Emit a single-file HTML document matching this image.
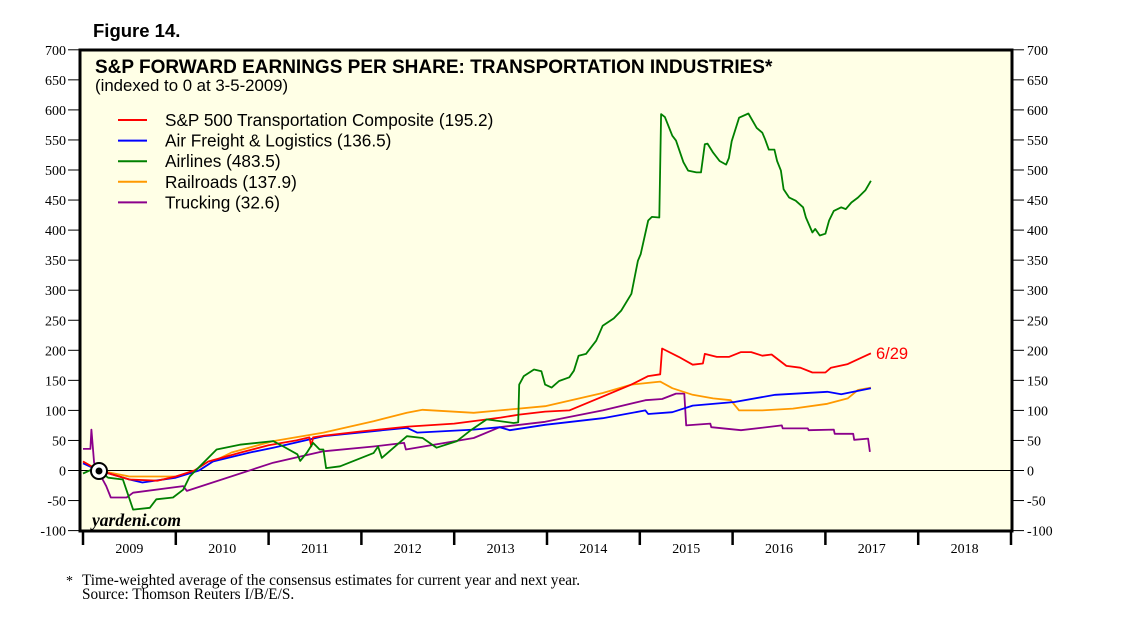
<!DOCTYPE html>
<html><head><meta charset="utf-8"><style>
body{margin:0;background:#fff;}
svg{display:block;}
.ax{font-family:"Liberation Serif",serif;font-size:14px;fill:#000;}
.sans{font-family:"Liberation Sans",sans-serif;}
</style></head><body>
<svg id="chart" width="1138" height="638" viewBox="0 0 1138 638">
<text x="93" y="37" class="sans" font-size="18.5" font-weight="bold">Figure 14.</text>
<rect x="80" y="50" width="932" height="481" fill="#ffffe6" stroke="#000" stroke-width="3"/>
<g id="yaxes"></g>
<g id="xaxis"></g>
<line x1="81" x2="1011" y1="470.5" y2="470.5" stroke="#000" stroke-width="1"/>
<text x="95" y="73" class="sans" font-size="19" font-weight="bold">S&amp;P FORWARD EARNINGS PER SHARE: TRANSPORTATION INDUSTRIES*</text>
<text x="95" y="91" class="sans" font-size="16.8">(indexed to 0 at 3-5-2009)</text>
<g id="legend"></g>
<g id="series"></g>
<text x="876" y="359" class="sans" font-size="16.5" fill="#ff0000">6/29</text>
<circle cx="99" cy="471" r="8" fill="#fff" stroke="#000" stroke-width="2"/>
<circle cx="99" cy="471" r="3.5" fill="#000"/>
<text x="92" y="526" font-family="Liberation Serif,serif" font-size="17.5" font-weight="bold" font-style="italic">yardeni.com</text>
<text x="66" y="585" class="ax" font-size="15">*</text>
<text x="82" y="585" class="ax" style="font-size:15.3px">Time-weighted average of the consensus estimates for current year and next year.</text>
<text x="82" y="599" class="ax" style="font-size:15.3px">Source: Thomson Reuters I/B/E/S.</text>
</svg>
<script>
const yTicks=[700,650,600,550,500,450,400,350,300,250,200,150,100,50,0,-50,-100];
const years=[2009,2010,2011,2012,2013,2014,2015,2016,2017,2018];
const seriesNames=["S&P 500 Transportation Composite (195.2)","Air Freight & Logistics (136.5)","Airlines (483.5)","Railroads (137.9)","Trucking (32.6)"];
const seriesColors=["#ff0000","#0000ff","#008000","#ff9900","#8b008b"];
const airlinesT=[2009.0,2009.1,2009.17,2009.27,2009.43,2009.54,2009.72,2009.79,2009.97,2010.08,2010.15,2010.33,2010.44,2010.69,2011.05,2011.16,2011.31,2011.34,2011.41,2011.48,2011.55,2011.59,2011.62,2011.77,2012.13,2012.18,2012.22,2012.49,2012.66,2012.81,2013.03,2013.17,2013.35,2013.64,2013.69,2013.70,2013.75,2013.86,2013.94,2013.98,2014.05,2014.13,2014.24,2014.29,2014.34,2014.42,2014.53,2014.60,2014.72,2014.80,2014.91,2014.98,2015.01,2015.09,2015.13,2015.21,2015.23,2015.27,2015.35,2015.39,2015.47,2015.52,2015.61,2015.66,2015.70,2015.73,2015.79,2015.86,2015.93,2015.96,2015.99,2016.07,2016.17,2016.26,2016.32,2016.35,2016.39,2016.45,2016.48,2016.52,2016.55,2016.61,2016.68,2016.76,2016.79,2016.86,2016.89,2016.94,2017.00,2017.04,2017.09,2017.17,2017.22,2017.28,2017.35,2017.43,2017.49];
const airlinesV=[-5,2,0,-12,-15,-65,-62,-48,-45,-32,-10,18,35,43,49,40,27,16,29,46,35,35,4,7,29,40,21,57,54,38,49,66,85,79,80,143,157,168,165,143,138,149,155,166,191,194,216,241,253,266,294,349,360,416,422,421,593,588,557,549,513,499,496,496,543,544,529,515,509,520,548,587,594,570,562,551,534,534,515,499,468,454,449,438,421,396,402,391,394,416,432,438,435,446,454,466,482];
const compT=[2009.0,2009.17,2009.5,2009.8,2010.0,2010.2,2010.35,2010.7,2011.0,2011.3,2011.44,2011.46,2011.48,2011.6,2012.0,2012.5,2013.0,2013.5,2013.70,2013.98,2014.24,2014.60,2014.91,2015.09,2015.22,2015.24,2015.42,2015.57,2015.68,2015.70,2015.83,2015.96,2016.09,2016.20,2016.32,2016.42,2016.58,2016.73,2016.86,2017.00,2017.06,2017.24,2017.35,2017.49];
const compV=[15,0,-15,-17,-10,0,15,30,42,50,55,40,55,58,65,73,78,88,93,98,100,123,143,157,160,203,189,176,178,194,189,189,197,197,191,193,174,171,163,163,171,177,185,195];
const airFrT=[2009.0,2009.17,2009.5,2009.64,2010.0,2010.25,2010.4,2010.8,2011.05,2011.59,2012.49,2012.6,2013.21,2013.49,2013.60,2013.98,2014.60,2015.06,2015.09,2015.35,2015.57,2016.02,2016.46,2017.02,2017.17,2017.49];
const airFrV=[12,0,-15,-20,-12,0,15,30,38,57,71,63,68,72,67,76,87,100,94,97,108,114,126,131,127,137];
const railT=[2009.0,2009.17,2009.5,2010.0,2010.25,2010.4,2010.6,2011.05,2011.59,2012.13,2012.49,2012.66,2013.21,2013.49,2013.98,2014.60,2014.91,2015.22,2015.35,2015.57,2015.79,2015.98,2016.07,2016.32,2016.65,2017.02,2017.24,2017.35,2017.49];
const railV=[15,0,-10,-10,0,15,30,49,63,82,96,101,96,100,107,129,143,148,137,126,120,117,100,100,103,111,120,134,138];
const truckT=[2009.0,2009.08,2009.09,2009.12,2009.16,2009.25,2009.3,2009.47,2009.54,2010.08,2010.12,2011.05,2011.59,2012.13,2012.46,2012.48,2013.21,2013.49,2013.98,2014.60,2015.06,2015.24,2015.39,2015.48,2015.50,2015.76,2015.77,2016.09,2016.53,2016.54,2016.81,2016.82,2017.09,2017.10,2017.30,2017.31,2017.46,2017.48];
const truckV=[36,36,68,13,0,-26,-45,-45,-37,-26,-34,13,32,40,46,35,54,72,81,100,117,119,128,128,75,78,72,67,75,70,70,67,68,61,61,51,53,31];
const allT=[compT,airFrT,airlinesT,railT,truckT];
const allV=[compV,airFrV,airlinesV,railV,truckV];

const NS="http://www.w3.org/2000/svg";
const X0=83,YW=92.8,Y0=470.5,YS=0.601;
const xs=t=>X0+(t-2009)*YW;
const ys=v=>Y0-v*YS;
function mk(tag,attrs,parent){const e=document.createElementNS(NS,tag);for(const k in attrs)e.setAttribute(k,attrs[k]);parent.appendChild(e);return e;}
const ya=document.getElementById('yaxes');
yTicks.forEach(v=>{
  const y=ys(v);
  const l=mk('line',{x1:68,x2:79,y1:y,y2:y,stroke:'#000'},ya);
  
  
  const r=mk('line',{x1:1013,x2:1024,y1:y,y2:y,stroke:'#000'},ya);
  
  
  const t=mk('text',{x:66,y:y+5,'text-anchor':'end','class':'ax'},ya);
  t.textContent=v;
  
  
  const t2=mk('text',{x:1027,y:y+5,'class':'ax'},ya);
  t2.textContent=v;
  
  
});
const xa=document.getElementById('xaxis');
years.concat([2019]).forEach(yr=>{
  const x=xs(yr);
  const l=mk('line',{x1:x,x2:x,y1:531,y2:545,stroke:'#000','stroke-width':2.5},xa);
  
  
});
years.forEach(yr=>{
  const t=mk('text',{x:xs(yr+0.5),y:553,'text-anchor':'middle','class':'ax'},xa);
  t.textContent=yr;
  
  
});
const lg=document.getElementById('legend');
seriesNames.forEach((n,i)=>{
  const y=120+i*20.6;
  const l=mk('line',{x1:118,x2:147,y1:y,y2:y,stroke:seriesColors[i],'stroke-width':2},lg);
  
  
  const t=mk('text',{x:165,y:y+6,'class':'sans','font-size':17.2},lg);
  t.textContent=n;
  
  
});
const sg=document.getElementById('series');
[4,3,1,0,2].forEach(i=>{
  const d=allT[i].map((t,j)=>(j?'L':'M')+xs(t).toFixed(1)+','+ys(allV[i][j]).toFixed(1)).join('');
  const p=mk('path',{d:d,fill:'none',stroke:seriesColors[i],'stroke-width':1.8,'stroke-linejoin':'round'},sg);
  
  
});
</script>
</body></html>
